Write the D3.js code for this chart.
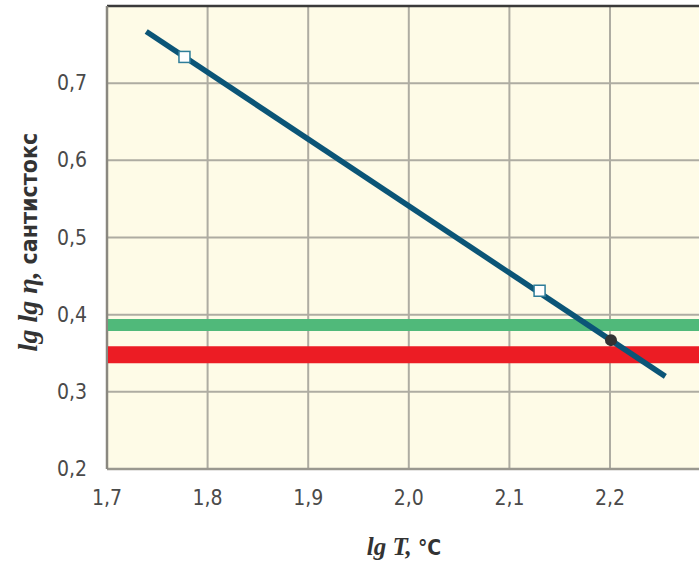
<!DOCTYPE html>
<html>
<head>
<meta charset="utf-8">
<script src="https://cdn.jsdelivr.net/npm/d3@7"></script>
<style>
  body { margin: 0; background: #fff; }
  svg { display: block; }
  .tick-label { font-family: 'DejaVu Sans Condensed', sans-serif; font-size: 21px; fill: #4a4a4a; }
</style>
</head>
<body>
<div id="chart"></div>
<script>
'use strict'

const WIDTH = 699
const HEIGHT = 566

// x ticks (lg T) and y ticks (lg lg eta)
const xTicks = [1.7, 1.8, 1.9, 2.0, 2.1, 2.2]
const yTicks = [0.2, 0.3, 0.4, 0.5, 0.6, 0.7]
// straight line end points
const lineX = [1.739, 2.255]
const lineY = [0.767, 0.320]
// open square markers
const squareX = [1.777, 2.130]
const squareY = [0.734, 0.431]
// black dot
const dotX = [2.201]
const dotY = [0.367]
// horizontal bands
const bandValues = [0.3865, 0.348]
const bandColors = ['#50b97a', '#ec1c24']
const bandWidths = [12, 17]

const margin = { left: 107, top: 6, bottom: 97 }

const x = d3.scaleLinear().domain([1.7, 2.3]).range([margin.left, margin.left + 603.6])
const y = d3.scaleLinear().domain([0.2, 0.8]).range([HEIGHT - margin.bottom, margin.top])

const fmt = (d) => d3.format('.1f')(d).replace('.', ',')

const svg = d3.select('#chart')
  .append('svg')
  .attr('width', WIDTH)
  .attr('height', HEIGHT)

// plot background
svg.append('rect')
  .attr('x', x(1.7))
  .attr('y', y(0.8))
  .attr('width', WIDTH - x(1.7))
  .attr('height', y(0.2) - y(0.8))
  .attr('fill', '#fefbe7')

// grid
svg.append('g')
  .selectAll('line')
  .data(xTicks.slice(1))
  .enter()
  .append('line')
  .attr('x1', (d) => x(d))
  .attr('x2', (d) => x(d))
  .attr('y1', y(0.8))
  .attr('y2', y(0.2))
  .attr('stroke', '#aeaca2')
  .attr('stroke-width', 2)

svg.append('g')
  .selectAll('line')
  .data(yTicks.slice(1))
  .enter()
  .append('line')
  .attr('x1', x(1.7))
  .attr('x2', WIDTH)
  .attr('y1', (d) => y(d))
  .attr('y2', (d) => y(d))
  .attr('stroke', '#aeaca2')
  .attr('stroke-width', 2)

// border
svg.append('line')
  .attr('x1', x(1.7)).attr('x2', WIDTH)
  .attr('y1', y(0.8)).attr('y2', y(0.8))
  .attr('stroke', '#3a3a3a').attr('stroke-width', 2.5)
svg.append('line')
  .attr('x1', x(1.7)).attr('x2', WIDTH)
  .attr('y1', y(0.2)).attr('y2', y(0.2))
  .attr('stroke', '#9a9890').attr('stroke-width', 2.5)
svg.append('line')
  .attr('x1', x(1.7)).attr('x2', x(1.7))
  .attr('y1', y(0.8)).attr('y2', y(0.2))
  .attr('stroke', '#8a8880').attr('stroke-width', 2.5)

// bands
svg.append('g')
  .selectAll('line')
  .data(bandValues)
  .enter()
  .append('line')
  .attr('x1', x(1.7) + 1)
  .attr('x2', WIDTH)
  .attr('y1', (d) => y(d))
  .attr('y2', (d) => y(d))
  .attr('stroke', (d, i) => bandColors[i])
  .attr('stroke-width', (d, i) => bandWidths[i])

// line
const lineData = lineX.map((v, i) => [v, lineY[i]])
svg.append('path')
  .datum(lineData)
  .attr('d', d3.line().x((d) => x(d[0])).y((d) => y(d[1])))
  .attr('fill', 'none')
  .attr('stroke', '#0b5577')
  .attr('stroke-width', 5.5)

// markers
svg.append('g')
  .selectAll('rect')
  .data(squareX.map((v, i) => [v, squareY[i]]))
  .enter()
  .append('rect')
  .attr('x', (d) => x(d[0]) - 5.5)
  .attr('y', (d) => y(d[1]) - 5.5)
  .attr('width', 11)
  .attr('height', 11)
  .attr('fill', '#fff')
  .attr('stroke', '#2e7d99')
  .attr('stroke-width', 1.5)

svg.append('g')
  .selectAll('circle')
  .data(dotX.map((v, i) => [v, dotY[i]]))
  .enter()
  .append('circle')
  .attr('cx', (d) => x(d[0]))
  .attr('cy', (d) => y(d[1]))
  .attr('r', 6)
  .attr('fill', '#333')

// tick labels
svg.append('g')
  .selectAll('text')
  .data(xTicks)
  .enter()
  .append('text')
  .attr('class', 'tick-label')
  .attr('x', (d) => x(d))
  .attr('y', 505)
  .attr('text-anchor', 'middle')
  .text(fmt)

svg.append('g')
  .selectAll('text')
  .data(yTicks)
  .enter()
  .append('text')
  .attr('class', 'tick-label')
  .attr('x', 87)
  .attr('y', (d) => y(d) + 7)
  .attr('text-anchor', 'end')
  .text(fmt)

// axis titles
const xTitle = svg.append('text')
  .attr('x', 404)
  .attr('y', 555)
  .attr('text-anchor', 'middle')
  .attr('fill', '#333')
xTitle.append('tspan')
  .attr('font-family', 'Liberation Serif, serif')
  .attr('font-style', 'italic')
  .attr('font-weight', 'bold')
  .attr('font-size', 25)
  .text('lg T, ')
xTitle.append('tspan')
  .attr('font-family', 'DejaVu Sans Condensed, sans-serif')
  .attr('font-weight', 'bold')
  .attr('font-size', 21)
  .text('°C')

const yTitle = svg.append('text')
  .attr('transform', 'translate(37, 242) rotate(-90)')
  .attr('text-anchor', 'middle')
  .attr('fill', '#333')
yTitle.append('tspan')
  .attr('font-family', 'Liberation Serif, serif')
  .attr('font-style', 'italic')
  .attr('font-weight', 'bold')
  .attr('font-size', 28)
  .text('lg lg η, ')
yTitle.append('tspan')
  .attr('font-family', 'DejaVu Sans Condensed, sans-serif')
  .attr('font-weight', 'bold')
  .attr('font-size', 23)
  .text('сантистокс')
</script>
</body>
</html>
